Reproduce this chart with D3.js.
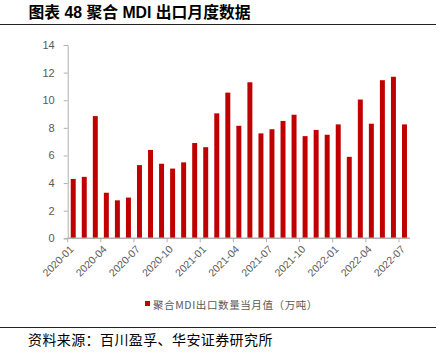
<!DOCTYPE html>
<html><head><meta charset="utf-8">
<script src="https://cdn.jsdelivr.net/npm/d3@7"></script>
<style>body{margin:0;background:#fff}svg{display:block}</style>
</head><body>
<script>
const months = ["2020-01","2020-02","2020-03","2020-04","2020-05","2020-06","2020-07","2020-08","2020-09","2020-10","2020-11","2020-12",
"2021-01","2021-02","2021-03","2021-04","2021-05","2021-06","2021-07","2021-08","2021-09","2021-10","2021-11","2021-12",
"2022-01","2022-02","2022-03","2022-04","2022-05","2022-06","2022-07"];
const values = [4.3,4.45,8.85,3.3,2.75,2.95,5.3,6.4,5.4,5.05,5.5,6.9,
6.6,9.05,10.55,8.15,11.3,7.6,7.9,8.5,8.95,7.4,7.85,7.5,
8.25,5.9,10.05,8.3,11.45,11.7,8.25];
const yTicks = [0,2,4,6,8,10,12,14];
const xTickLabels = ["2020-01","2020-04","2020-07","2020-10","2021-01","2021-04","2021-07","2021-10","2022-01","2022-04","2022-07"];
const seriesName = "聚合MDI出口数量当月值（万吨）";
const title = "图表 48 聚合 MDI 出口月度数据";
const source = "资料来源：百川盈孚、华安证券研究所";

const W = 446, H = 357;
const svg = d3.select("body").append("svg").attr("width", W).attr("height", H);
const pL = 67.7, pR = 410, pT = 45, pB = 238.3;
const x = d3.scaleBand().domain(months).range([pL, pR]).paddingInner(0.55).paddingOuter(0.275);
const xb = d3.scaleBand().domain(months).range([pL, pR]);
const y = d3.scaleLinear().domain([0, 14]).range([pB, pT]);
const grey = "#595959", axisC = "#b0b0b0";
const cjk = "Arial, 'Liberation Sans', 'Noto Sans CJK SC', sans-serif";

// title
svg.append("text").attr("x", 28.5).attr("y", 18).attr("font-family", cjk)
  .attr("font-weight", "bold").attr("font-size", 15.8).attr("fill", "#000").text(title);
svg.append("line").attr("x1", 0).attr("x2", 436).attr("y1", 24.5).attr("y2", 24.5).attr("stroke", "#222").attr("stroke-width", 1);

// bars
svg.append("g").selectAll("rect").data(values).join("rect")
  .attr("x", (d, i) => x(months[i])).attr("width", x.bandwidth())
  .attr("y", d => y(d)).attr("height", d => y(0) - y(d)).attr("fill", "#C00000");

// y axis
const ya = svg.append("g").attr("transform", `translate(${pL},0)`)
  .call(d3.axisLeft(y).tickValues(yTicks).tickSize(4).tickPadding(9));
ya.select(".domain").attr("stroke", axisC);
ya.selectAll(".tick line").attr("stroke", axisC);
ya.selectAll("text").attr("fill", grey).attr("font-size", 11).attr("font-family", "Arial, 'Liberation Sans', sans-serif");

// x axis
const xa = svg.append("g").attr("transform", `translate(0,${pB})`);
xa.append("line").attr("x1", pL).attr("x2", pR).attr("y1", 0).attr("y2", 0).attr("stroke", axisC).attr("stroke-width", 1.5);
xa.selectAll(".tk").data(xTickLabels).join("line").attr("class", "tk")
  .attr("x1", d => xb(d)).attr("x2", d => xb(d)).attr("y1", 0).attr("y2", 4).attr("stroke", axisC);
xa.selectAll(".lb").data(xTickLabels).join("text").attr("class", "lb")
  .attr("transform", d => `translate(${xb(d) + 4},${9}) rotate(-45)`)
  .attr("text-anchor", "end").attr("dy", "0.35em")
  .attr("fill", grey).attr("font-size", 10.5).attr("font-family", "Arial, 'Liberation Sans', sans-serif").text(d => d);

// legend
svg.append("rect").attr("x", 145).attr("y", 301).attr("width", 5).attr("height", 5).attr("fill", "#C00000");
svg.append("text").attr("x", 153).attr("y", 308.5).attr("font-size", 10.5).attr("letter-spacing", 0.6).attr("fill", grey)
  .attr("font-family", "'Noto Sans CJK SC', sans-serif").text(seriesName);

// bottom line and source
svg.append("line").attr("x1", 0).attr("x2", 436).attr("y1", 327.5).attr("y2", 327.5).attr("stroke", "#222").attr("stroke-width", 1);
svg.append("text").attr("x", 28).attr("y", 345).attr("font-size", 14).attr("letter-spacing", 0.4).attr("fill", "#000")
  .attr("font-family", "'Noto Sans CJK SC', sans-serif").text(source);
</script>
</body></html>
